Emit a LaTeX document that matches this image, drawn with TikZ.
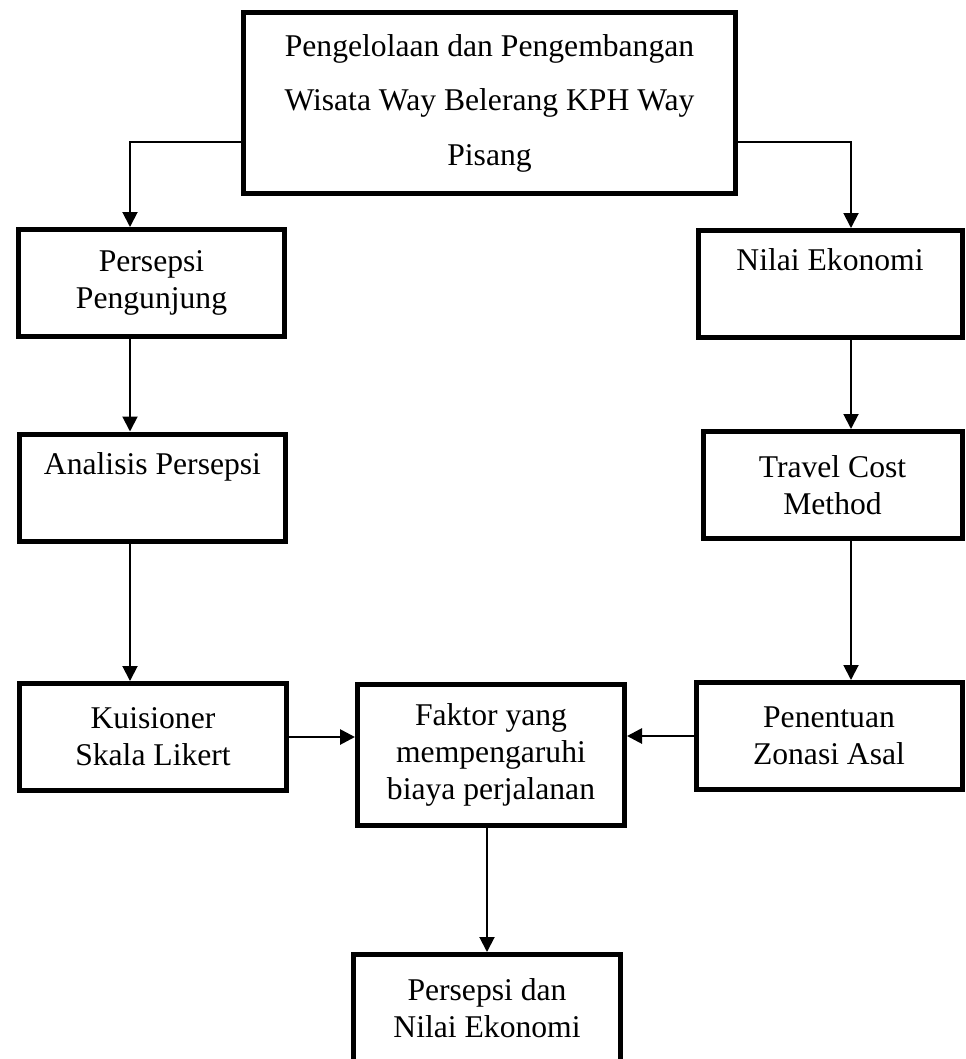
\documentclass[tikz,border=0pt]{standalone}
\usepackage{fontspec}
\setmainfont{Liberation Serif}
\usetikzlibrary{arrows.meta}

\begin{document}
\begin{tikzpicture}[
        >={Triangle[length=0.3cm,width=0.3cm]},
        box/.style={rectangle, draw, line width=0.1cm, align=center, minimum width=5.32cm, minimum height=2.14cm, inner sep=0pt, font=\fontsize{18}{21}\selectfont},
        main_box/.style={box, minimum width=9.84cm, minimum height=3.62cm, font=\fontsize{18}{31}\selectfont},
        flow/.style={->, line width=1.1pt}
    ]
        \useasboundingbox (0,0) rectangle (19.3,-21.18);

        % Top: pengelolaan
        \node[main_box] (main_root) at (9.79,-2.06) {Pengelolaan dan Pengembangan\\Wisata Way Belerang KPH Way\\Pisang};

        % Left column: persepsi
        \node[box] (left_persepsi) at (3.03,-5.66) {Persepsi\\Pengunjung};
        \node[box] (left_analisis) at (3.05,-9.75) {Analisis Persepsi\\\strut};
        \node[box] (left_kuisioner) at (3.06,-14.74) {Kuisioner\\Skala Likert};

        % Right column: nilai ekonomi
        \node[box, minimum width=5.28cm] (right_nilai) at (16.6,-5.68) {Nilai Ekonomi\\\strut};
        \node[box, minimum width=5.18cm] (right_tcm) at (16.65,-9.7) {Travel Cost\\Method};
        \node[box] (right_zonasi) at (16.58,-14.72) {Penentuan\\Zonasi Asal};

        % Middle: faktor and hasil
        \node[box, minimum width=5.34cm, minimum height=2.82cm] (mid_faktor) at (9.82,-15.1) {Faktor yang\\mempengaruhi\\biaya perjalanan};
        \node[box, minimum width=5.34cm] (mid_hasil) at (9.74,-20.16) {Persepsi dan\\Nilai Ekonomi};

        \coordinate (left_col) at (2.6,-2.84);
        \coordinate (right_col) at (17.02,-2.84);

        \draw[flow] (main_root.west |- left_col) -| (left_col |- left_persepsi.north);
        \draw[flow] (main_root.east |- right_col) -| (right_col |- right_nilai.north);
        \draw[flow] (left_col |- left_persepsi.south) -- (left_col |- left_analisis.north);
        \draw[flow] (left_col |- left_analisis.south) -- (left_col |- left_kuisioner.north);
        \draw[flow] (right_col |- right_nilai.south) -- (right_col |- right_tcm.north);
        \draw[flow] (right_col |- right_tcm.south) -- (right_col |- right_zonasi.north);
        \draw[flow, line width=1.6pt] (left_kuisioner.east) -- (mid_faktor.west |- left_kuisioner.east);
        \draw[flow, line width=1.6pt] (right_zonasi.west) -- (mid_faktor.east |- right_zonasi.west);
        \draw[flow] (mid_faktor.south -| mid_hasil.north) -- (mid_hasil.north);

    \end{tikzpicture}
\end{document}
